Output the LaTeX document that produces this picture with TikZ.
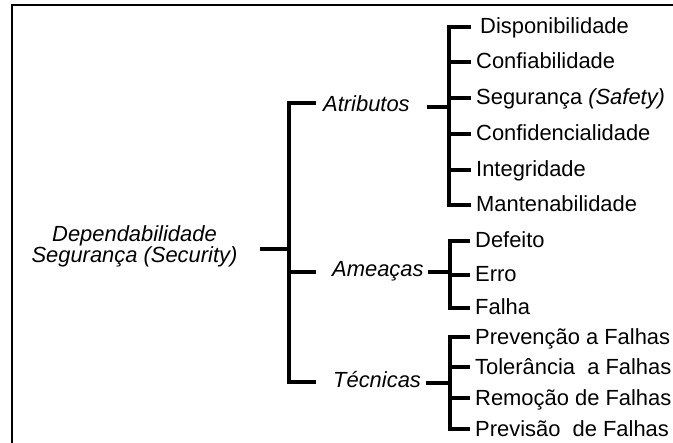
\documentclass[tikz,border=0pt]{standalone}
\usepackage{fontspec}
\setmainfont{Liberation Sans}
\begin{document}
\begin{tikzpicture}[x=1bp,y=-1bp,
  branch/.style={line width=3.3bp, line join=miter, line cap=butt},
  frame/.style={line width=1.2bp},
  lbl/.style={font=\fontsize{22}{21}\selectfont, inner sep=0pt},
  group/.style={lbl, font=\fontsize{22}{21}\selectfont\itshape, anchor=base west},
  leaf/.style={lbl, anchor=west, inner xsep=5bp, inner ysep=0pt, text height=14bp, text depth=0pt},
]
\useasboundingbox (0,0) rectangle (673,443);
\draw[frame] (12,443) -- (12,5) -- (673,5);

% root
\node[lbl, font=\fontsize{22}{21}\selectfont\itshape, align=center] (root) at (134.5,246)
  {Dependabilidade\\Segurança (Security)};

% second level
\node[group] (atr) at (323,112) {Atributos};
\node[group] (ame) at (332,277) {Ameaças};
\node[group] (tec) at (333,387) {Técnicas};

% leaves: attributes
\node[leaf] (a1) at (471,27)  {\hspace{4bp}Disponibilidade};
\node[leaf] (a2) at (471,62)  {Confiabilidade};
\node[leaf] (a3) at (471,98)  {Segurança \textit{(Safety)}};
\node[leaf] (a4) at (471,134) {Confidencialidade};
\node[leaf] (a5) at (471,170) {Integridade};
\node[leaf] (a6) at (471,205) {Mantenabilidade};

% leaves: threats
\node[leaf] (b1) at (470,241) {Defeito};
\node[leaf] (b2) at (470,275) {Erro};
\node[leaf] (b3) at (470,308) {Falha};

% leaves: techniques
\node[leaf] (c1) at (470,337) {Prevenção a Falhas};
\node[leaf] (c2) at (470,367) {Tolerância\ \ a Falhas};
\node[leaf] (c3) at (470,398) {Remoção de Falhas};
\node[leaf] (c4) at (470,429) {Previsão\ \ de Falhas};

% junction points
\coordinate (trunk)   at (289,249);
\coordinate (root-out) at (260,249);
\coordinate (atr-in)  at (316,103);
\coordinate (ame-in)  at (316,272);
\coordinate (tec-in)  at (316,382);
\coordinate (atr-out) at (427,107);
\coordinate (ame-out) at (428,272);
\coordinate (tec-out) at (426,383);
\coordinate (gA) at (449,0);
\coordinate (gB) at (450,0);
\coordinate (gC) at (450,0);

% main bracket
\draw[branch] (root-out) -- (trunk);
\draw[branch] (atr-in) -- (atr-in -| trunk) -- (tec-in -| trunk) -- (tec-in);
\draw[branch] (ame-in -| trunk) -- (ame-in);

% attributes bracket
\draw[branch] (atr-out) -- (atr-out -| gA);
\draw[branch] (a1.west) -- (a1.west -| gA) -- (a6.west -| gA) -- (a6.west);
\foreach \n in {a2,a3,a4,a5} \draw[branch] (\n.west -| gA) -- (\n.west);

% threats bracket
\draw[branch] (ame-out) -- (ame-out -| gB);
\draw[branch] (b1.west) -- (b1.west -| gB) -- (b3.west -| gB) -- (b3.west);
\draw[branch] (b2.west -| gB) -- (b2.west);

% techniques bracket
\draw[branch] (tec-out) -- (tec-out -| gC);
\draw[branch] (c1.west) -- (c1.west -| gC) -- (c4.west -| gC) -- (c4.west);
\foreach \n in {c2,c3} \draw[branch] (\n.west -| gC) -- (\n.west);
\end{tikzpicture}
\end{document}
